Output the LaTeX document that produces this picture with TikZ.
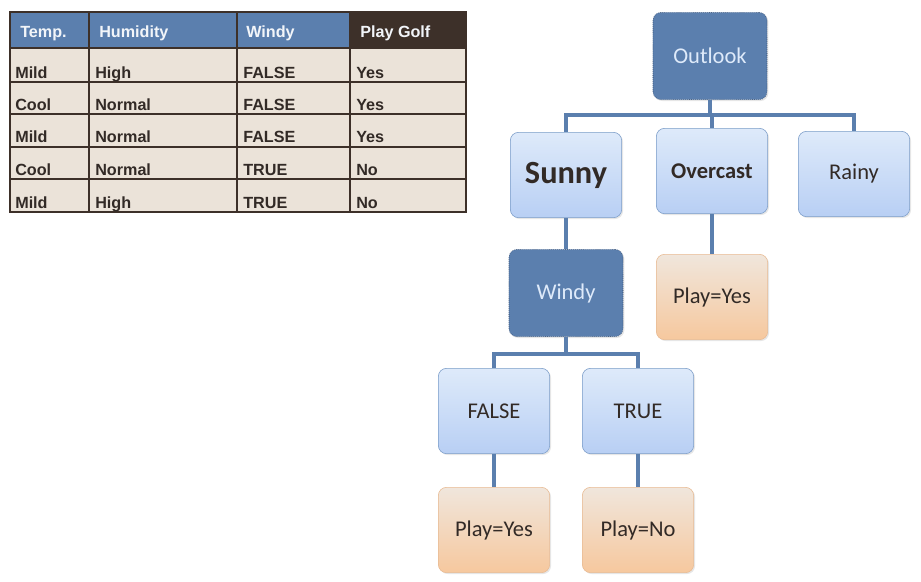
\documentclass[tikz,border=0pt]{standalone}
\usepackage{fontspec}
\setmainfont{Carlito}
\newfontfamily\tablefont{Liberation Sans}
\usetikzlibrary{shadows}
\usepackage{xcolor}
\definecolor{golfblue}{RGB}{91, 127, 174}
\definecolor{golfnavy}{RGB}{44, 64, 96}
\definecolor{golfbrown}{RGB}{61, 48, 41}
\definecolor{golfbeige}{RGB}{235, 227, 217}
\definecolor{golfink}{RGB}{50, 42, 38}
\definecolor{skytop}{RGB}{222, 234, 250}
\definecolor{skybottom}{RGB}{184, 207, 244}
\definecolor{skyedge}{RGB}{122, 156, 200}
\definecolor{peachtop}{RGB}{240, 230, 220}
\definecolor{peachbottom}{RGB}{246, 200, 158}
\definecolor{peachedge}{RGB}{232, 186, 146}

\begin{document}
\begin{tikzpicture}[x=0.025cm, y=-0.025cm,
    attr/.style={rectangle, rounded corners=0.2cm, draw=golfnavy, densely dotted, fill=golfblue,
        minimum width=2.85cm, minimum height=2.18cm, text=skytop, font=\fontsize{16}{18}\selectfont,
        drop shadow={opacity=0.2, shadow xshift=1pt, shadow yshift=-1pt}},
    branch/.style={rectangle, rounded corners=0.2cm, draw=skyedge, top color=skytop, bottom color=skybottom,
        minimum width=2.78cm, minimum height=2.13cm, text=golfink, font=\fontsize{16}{18}\selectfont,
        drop shadow={opacity=0.2, shadow xshift=1pt, shadow yshift=-1pt}},
    verdict/.style={rectangle, rounded corners=0.2cm, draw=peachedge, top color=peachtop, bottom color=peachbottom,
        minimum width=2.78cm, minimum height=2.13cm, text=golfink, font=\fontsize{16}{18}\selectfont,
        drop shadow={opacity=0.2, shadow xshift=1pt, shadow yshift=-1pt}},
    link/.style={golfblue, line width=2.6pt},
    cell/.style={anchor=base west, inner sep=0pt, text=golfink, font=\tablefont\bfseries\fontsize{11.5}{13}\selectfont},
    headcell/.style={cell, text=white!92!golfblue}]
    \useasboundingbox (0,0) rectangle (921,581);

    % Data table
    \fill[golfbeige] (10,48) rectangle (466,212);
    \fill[golfblue] (10,12) rectangle (350,48);
    \fill[golfbrown] (350,12) rectangle (466,48);
    \foreach \y in {82,114,147,179}
        \draw[golfbrown, line width=1.6pt] (10,\y) -- (466,\y);
    \draw[golfbrown, line width=2pt] (10,48) -- (466,48);
    \foreach \x in {89,237,350}
        \draw[golfbrown, line width=1.6pt] (\x,12) -- (\x,212);
    \draw[golfbrown, line width=2pt] (10,12) rectangle (466,212);

    \node[headcell] (hTemp) at (20,37) {Temp.};
    \node[headcell] (hHumid) at (99,37) {Humidity};
    \node[headcell] (hWindy) at (246,37) {Windy};
    \node[headcell] (hPlay) at (360,37) {Play Golf};

    \foreach \t/\h/\w/\p [count=\i] in {Mild/High/FALSE/Yes, Cool/Normal/FALSE/Yes,
            Mild/Normal/FALSE/Yes, Cool/Normal/TRUE/No, Mild/High/TRUE/No} {
        \pgfmathsetmacro{\rowbase}{{78,110,142,175,208}[\i-1]}
        \node[cell] (temp\i) at (15,\rowbase) {\t};
        \node[cell] (humid\i) at (95,\rowbase) {\h};
        \node[cell] (windy\i) at (243,\rowbase) {\w};
        \node[cell] (play\i) at (356,\rowbase) {\p};
    }

    % Decision tree
    \node[attr] (outlook) at (710,56) {Outlook};
    \node[branch, font=\bfseries\fontsize{23}{25}\selectfont] (sunny) at (566,175) {Sunny};
    \node[branch, font=\bfseries\fontsize{16}{18}\selectfont] (overcast) at (712,171) {Overcast};
    \node[branch] (rainy) at (854,174) {Rainy};

    \node[attr] (windy) at (566,293) {Windy};
    \node[verdict] (overyes) at (712,297) {Play=Yes};

    \node[branch] (false) at (494,411) {FALSE};
    \node[branch] (true) at (638,411) {TRUE};
    \node[verdict] (falseyes) at (494,530) {Play=Yes};
    \node[verdict] (trueno) at (638,530) {Play=No};

    % Connectors
    \coordinate (busTop) at (710,115);
    \coordinate (busWindy) at (566,354);
    \draw[link] (outlook.south) -- (busTop);
    \draw[link] (sunny.north) |- (busTop) -| (rainy.north);
    \draw[link] (busTop) -| (overcast.north);
    \draw[link] (sunny.south) -- (windy.north);
    \draw[link] (overcast.south) -- (overyes.north);
    \draw[link] (windy.south) -- (busWindy);
    \draw[link] (false.north) |- (busWindy) -| (true.north);
    \draw[link] (false.south) -- (falseyes.north);
    \draw[link] (true.south) -- (trueno.north);
\end{tikzpicture}
\end{document}
